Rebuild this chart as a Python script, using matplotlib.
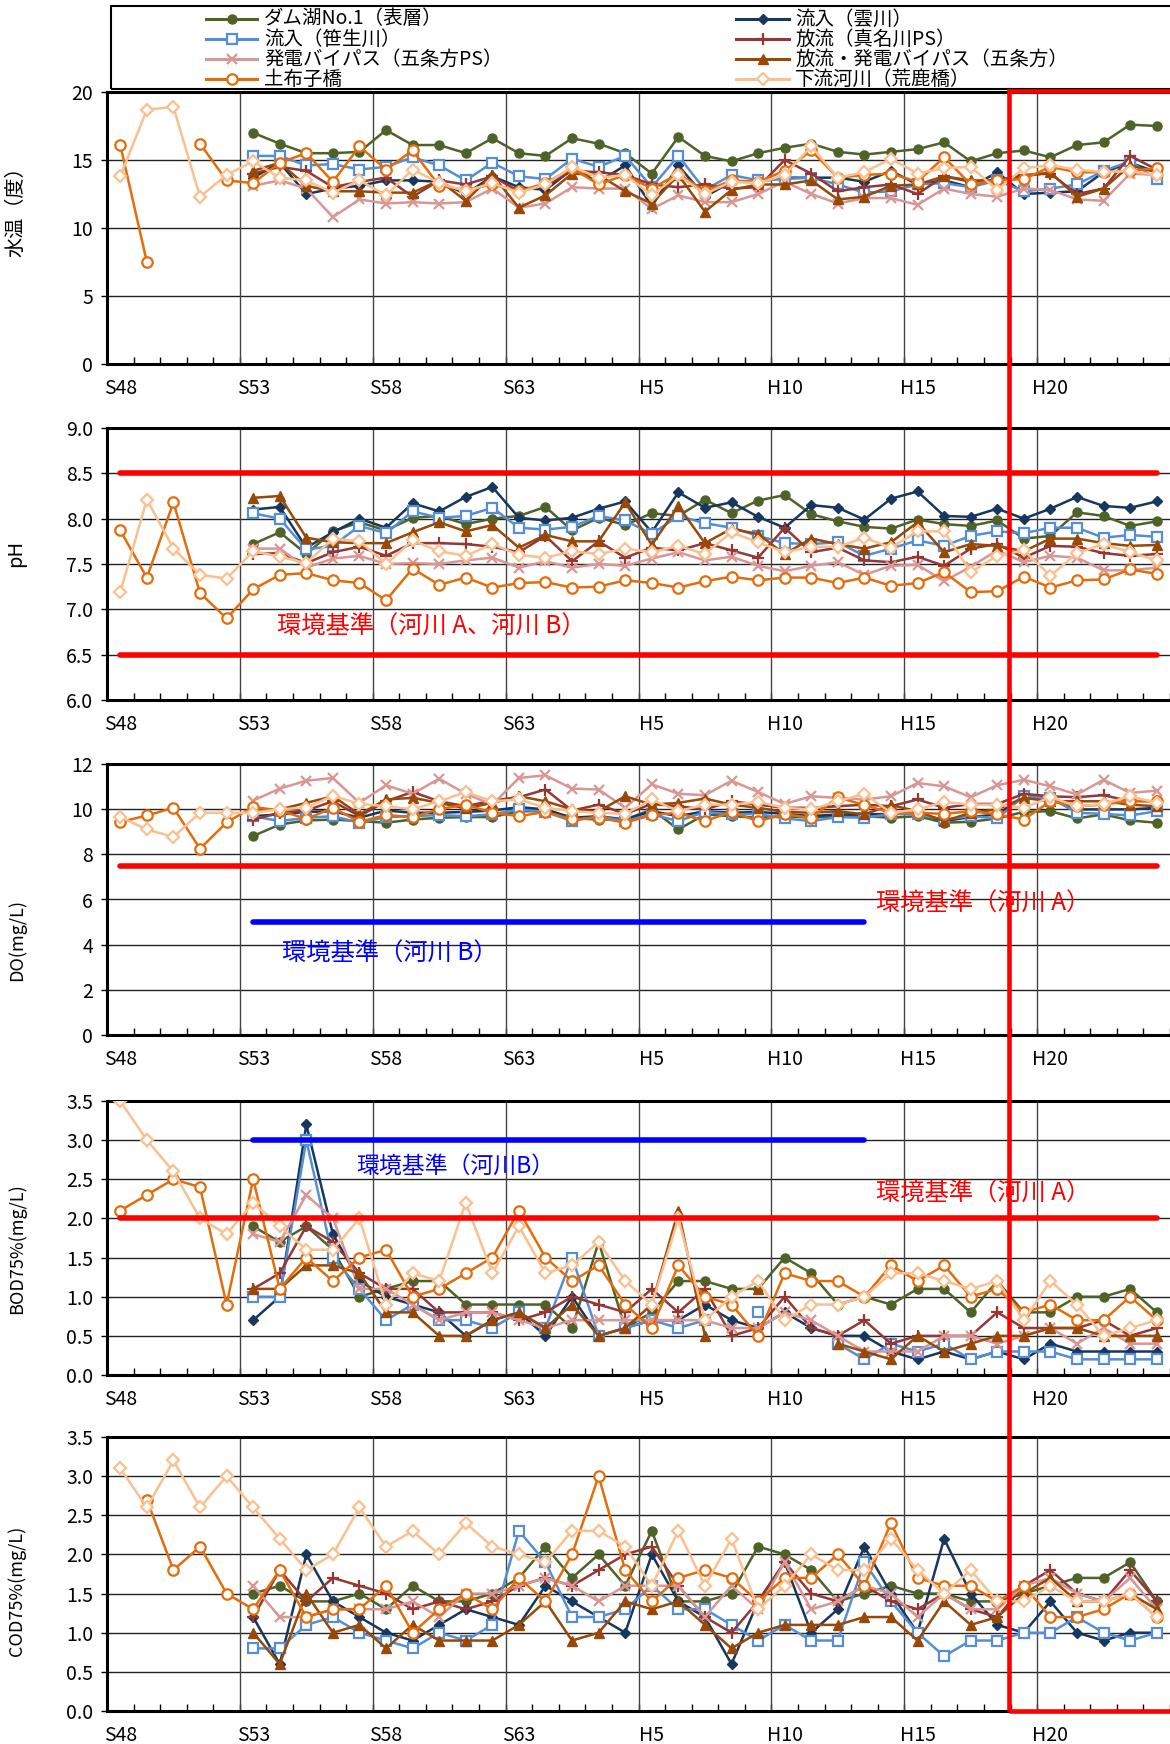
import numpy as np
import matplotlib.pyplot as plt
from matplotlib.lines import Line2D
from matplotlib.patches import Rectangle

plt.rcParams['font.family'] = ['Noto Sans CJK JP', 'DejaVu Sans']

nan = np.nan

# --------------------------
# categories (S48 .. S63, H1 .. H24)
# --------------------------
years = ['S%d' % y for y in range(48, 64)] + ['H%d' % y for y in range(1, 25)]

series_names = ['ダム湖No.1（表層）', '流入（雲川）', '流入（笹生川）', '放流（真名川PS）',
                '発電バイパス（五条方PS）', '放流・発電バイパス（五条方）', '土布子橋', '下流河川（荒鹿橋）']

# --------------------------
# 水温
# --------------------------
wt_dam = [nan]*5 + [17.0, 16.2, 15.5, 15.5, 15.6, 17.2, 16.1, 16.1, 15.5, 16.6, 15.5,
                    15.3, 16.6, 16.2, 15.5, 14.0, 16.7, 15.3, 14.9, 15.5, 15.9, 16.2, 15.6,
                    15.4, 15.6, 15.8, 16.3, 14.9, 15.5, 15.7, 15.2, 16.1, 16.3, 17.6, 17.5]
wt_kumo = [nan]*5 + [13.7, 14.8, 12.5, 12.9, 13.1, 13.5, 13.5, 13.4, 12.5, 13.8, 13.0,
                     12.8, 14.3, 13.4, 14.6, 11.6, 14.6, 12.3, 13.4, 13.4, 13.7, 13.7, 13.7,
                     13.4, 14.2, 13.2, 13.5, 13.0, 14.1, 12.5, 12.6, 12.7, 14.1, 14.8, 14.1]
wt_sasou = [nan]*5 + [15.3, 15.3, 14.6, 14.7, 14.3, 14.5, 15.2, 14.6, 13.5, 14.8, 13.8,
                      13.6, 15.1, 14.5, 15.3, 13.0, 15.3, 12.8, 13.9, 13.5, 13.6, 13.7, 13.2,
                      12.6, 12.7, 13.2, 13.3, 13.0, 13.5, 12.7, 12.9, 13.2, 14.2, 14.9, 13.6]
wt_hou = [nan]*5 + [14.0, 14.5, 14.2, 13.0, 13.4, 13.7, 12.3, 13.5, 13.2, 13.8, 12.7,
                    13.1, 14.2, 14.1, 13.9, 13.2, 13.0, 13.2, 12.9, 13.0, 15.0, 14.0, 12.7,
                    13.0, 13.2, 12.5, 13.8, 13.4, 13.5, 13.9, 14.0, 12.5, 12.9, 15.3, 14.3]
wt_bypass = [nan]*5 + [13.1, 13.5, 12.9, 10.8, 12.1, 11.8, 11.9, 11.8, 11.9, 12.9, 11.5,
                       11.8, 13.0, 12.9, 12.9, 11.4, 12.4, 11.9, 11.9, 12.5, 13.4, 12.5, 11.8,
                       12.2, 12.2, 11.7, 12.9, 12.5, 12.3, 12.9, 12.8, 12.1, 12.0, 14.0, 13.9]
wt_gojo = [nan]*5 + [14.2, 14.8, 13.1, 12.7, 12.7, 12.6, 12.6, 13.5, 12.0, 13.9, 11.5,
                     12.4, 14.0, 13.9, 12.7, 11.8, 13.9, 11.2, 12.8, 13.2, 13.2, 13.5, 12.1,
                     12.3, 13.1, 13.2, 13.8, 13.5, 13.5, 13.8, 14.1, 12.3, 12.9, 14.6, 14.1]
wt_dobu = [16.1, 7.5, nan, 16.2, 13.5,
           13.3, 14.8, 15.5, 13.4, 16.0, 14.3, 15.7, 13.1, 12.8, 13.2, 12.7,
           13.3, 14.4, 13.2, 13.9, 12.9, 14.0, 12.7, 13.5, 13.4, 14.2, 15.7, 13.7,
           13.9, 14.0, 13.4, 15.2, 13.2, 13.5, 13.6, 14.5, 14.1, 14.1, 14.2, 14.4]
wt_karashika = [13.8, 18.7, 18.9, 12.3, 13.9,
                14.9, 13.7, 13.5, 12.6, 13.5, 12.4, 14.3, 13.3, 12.7, 13.3, 12.6,
                13.2, 14.5, 13.7, 13.9, 12.4, 13.9, 12.5, 13.4, 13.3, 13.9, 16.0, 13.7,
                14.1, 15.1, 14.0, 14.4, 14.5, 12.8, 14.4, 14.6, 14.3, 14.1, 14.2, 13.9]

# --------------------------
# pH
# --------------------------
ph_dam = [nan]*5 + [7.72, 7.85, 7.61, 7.86, 7.96, 7.87, 8.01, 8.03, 7.94, 8.00, 8.03,
                    8.13, 7.87, 8.01, 7.93, 8.06, 8.03, 8.21, 8.06, 8.20, 8.26, 8.05, 7.97,
                    7.91, 7.89, 7.99, 7.94, 7.92, 7.98, 7.78, 7.81, 8.07, 8.03, 7.92, 7.97]
ph_kumo = [nan]*5 + [8.10, 8.13, 7.68, 7.85, 8.00, 7.90, 8.17, 8.08, 8.24, 8.35, 8.01,
                     7.98, 8.01, 8.11, 8.19, 7.85, 8.29, 8.12, 8.18, 8.02, 7.90, 8.15, 8.12,
                     7.99, 8.22, 8.30, 8.03, 8.02, 8.11, 8.00, 8.11, 8.24, 8.14, 8.12, 8.19]
ph_sasou = [nan]*5 + [8.06, 8.00, 7.66, 7.70, 7.92, 7.84, 8.08, 8.01, 8.03, 8.12, 7.90,
                      7.88, 7.91, 8.03, 7.98, 7.83, 8.03, 7.95, 7.90, 7.81, 7.73, 7.72, 7.74,
                      7.59, 7.67, 7.76, 7.70, 7.81, 7.86, 7.84, 7.90, 7.90, 7.79, 7.82, 7.80]
ph_hou = [nan]*5 + [7.61, 7.62, 7.51, 7.63, 7.69, 7.59, 7.73, 7.73, 7.72, 7.69, 7.63,
                    7.81, 7.53, 7.75, 7.57, 7.68, 7.65, 7.73, 7.65, 7.57, 7.90, 7.63, 7.68,
                    7.54, 7.52, 7.58, 7.48, 7.67, 7.72, 7.57, 7.70, 7.69, 7.62, 7.59, 7.61]
ph_bypass = [nan]*5 + [7.67, 7.67, 7.46, 7.56, 7.59, 7.50, 7.51, 7.50, 7.54, 7.57, 7.46,
                       7.53, 7.46, 7.50, 7.48, 7.56, 7.63, 7.54, 7.58, 7.48, 7.42, 7.48, 7.52,
                       7.38, 7.48, 7.49, 7.31, 7.47, 7.65, 7.52, 7.59, 7.57, 7.43, 7.43, 7.46]
ph_gojo = [nan]*5 + [8.23, 8.25, 7.79, 7.74, 7.73, 7.73, 7.85, 7.96, 7.86, 7.93, 7.68,
                     7.82, 7.75, 7.75, 8.18, 7.71, 8.14, 7.73, 7.89, 7.83, 7.61, 7.78, 7.72,
                     7.67, 7.74, 7.96, 7.63, 7.72, 7.70, 7.64, 7.78, 7.78, 7.73, 7.70, 7.71]
ph_dobu = [7.87, 7.35, 8.18, 7.18, 6.90,
           7.22, 7.38, 7.40, 7.32, 7.29, 7.10, 7.45, 7.27, 7.35, 7.24, 7.29,
           7.30, 7.24, 7.25, 7.32, 7.29, 7.24, 7.31, 7.36, 7.32, 7.35, 7.35, 7.29,
           7.35, 7.26, 7.29, 7.41, 7.19, 7.20, 7.36, 7.24, 7.32, 7.33, 7.44, 7.39]
ph_karashika = [7.19, 8.21, 7.67, 7.38, 7.34,
                7.64, 7.58, 7.51, 7.78, 7.75, 7.50, 7.76, 7.64, 7.59, 7.72, 7.60,
                7.57, 7.64, 7.61, 7.67, 7.63, 7.70, 7.61, 7.85, 7.74, 7.63, 7.69, 7.69,
                7.79, 7.68, 7.86, 7.86, 7.41, 7.59, 7.65, 7.37, 7.62, 7.72, 7.63, 7.54]

# --------------------------
# DO
# --------------------------
do_dam = [nan]*5 + [8.81, 9.32, 9.50, 9.54, 9.47, 9.40, 9.54, 9.62, 9.65, 9.65, 9.91,
                    9.91, 9.60, 9.54, 9.54, 9.99, 9.10, 9.77, 9.69, 9.62, 9.69, 9.62, 9.69,
                    9.69, 9.62, 9.69, 9.40, 9.44, 9.59, 9.88, 9.91, 9.59, 9.77, 9.50, 9.40]
do_kumo = [nan]*5 + [9.69, 9.77, 9.88, 9.91, 9.62, 9.94, 9.84, 9.84, 9.88, 9.94, 10.09,
                     9.99, 9.62, 9.69, 9.54, 9.91, 9.69, 9.91, 9.84, 9.88, 9.79, 9.69, 9.77,
                     9.77, 9.79, 9.84, 9.47, 9.65, 9.77, 10.57, 10.50, 9.99, 9.99, 9.99, 10.06]
do_sasou = [nan]*5 + [9.69, 9.47, 9.62, 9.69, 9.40, 9.65, 9.69, 9.74, 9.69, 9.77, 9.99,
                      9.88, 9.47, 9.69, 9.47, 9.77, 9.47, 9.88, 9.77, 9.79, 9.59, 9.47, 9.65,
                      9.62, 9.79, 9.77, 9.54, 9.69, 9.59, 10.57, 10.50, 9.84, 9.79, 9.72, 9.91]
do_hou = [nan]*5 + [9.54, 9.84, 9.94, 10.35, 9.69, 10.35, 10.76, 10.35, 10.13, 10.38, 10.53,
                    10.87, 9.94, 10.20, 9.79, 10.23, 10.13, 9.99, 10.35, 10.20, 10.06, 10.06, 10.13,
                    10.20, 10.13, 10.43, 10.06, 10.23, 10.23, 10.68, 10.57, 10.53, 10.62, 10.35, 10.35]
do_bypass = [nan]*5 + [10.38, 10.91, 11.26, 11.38, 10.28, 11.06, 10.68, 11.35, 10.68, 10.20, 11.38,
                       11.50, 10.91, 10.87, 10.06, 11.10, 10.68, 10.62, 11.26, 10.76, 10.23, 10.57, 10.50,
                       10.43, 10.57, 11.16, 11.01, 10.53, 11.06, 11.30, 11.01, 10.65, 11.30, 10.72, 10.82]
do_gojo = [nan]*5 + [9.99, 9.99, 10.28, 10.57, 9.77, 10.43, 10.50, 10.28, 10.03, 10.28, 10.57,
                     10.35, 9.99, 9.91, 10.57, 10.20, 10.28, 10.47, 10.20, 10.06, 9.88, 9.84, 9.91,
                     9.77, 10.18, 9.91, 9.47, 9.84, 9.99, 10.50, 10.35, 10.35, 10.35, 10.20, 10.13]
do_dobu = [9.43, 9.72, 10.06, 8.25, 9.41,
           10.10, 9.94, 9.57, 10.06, 9.44, 9.74, 9.65, 10.00, 10.20, 9.84, 9.69,
           9.88, 9.55, 9.62, 9.40, 9.74, 9.84, 9.47, 9.88, 9.47, 9.77, 9.62, 10.53,
           10.18, 9.84, 9.84, 9.79, 9.91, 9.77, 9.54, 10.35, 10.13, 10.20, 10.38, 10.35]
do_karashika = [9.65, 9.10, 8.77, 9.84, 9.84,
                9.84, 10.00, 10.06, 10.60, 10.23, 10.13, 9.99, 10.35, 10.76, 10.35, 10.43,
                10.06, 9.91, 9.84, 9.79, 10.43, 9.91, 10.20, 10.20, 10.32, 10.06, 9.99, 10.35,
                10.68, 9.84, 9.99, 10.32, 10.20, 10.20, 10.06, 10.53, 10.13, 10.23, 10.57, 10.28]

# --------------------------
# BOD75%
# --------------------------
bod_dam = [nan]*5 + [1.9, 1.7, 1.9, 1.6, 1.0, 1.1, 1.2, 1.2, 0.9, 0.9, 0.9,
                     0.9, 0.6, 1.7, 0.6, 0.8, 1.2, 1.2, 1.1, 1.1, 1.5, 1.3, 0.9,
                     1.0, 0.9, 1.1, 1.1, 0.8, 1.2, 0.8, 0.8, 1.0, 1.0, 1.1, 0.8]
bod_kumo = [nan]*5 + [0.7, 1.0, 3.2, 1.8, 1.2, 1.0, 0.9, 0.8, 0.5, 0.7, 0.8,
                      0.5, 1.0, 0.5, 0.6, 0.7, 0.7, 0.9, 0.7, 0.6, 0.8, 0.6, 0.5,
                      0.5, 0.3, 0.2, 0.3, 0.2, 0.3, 0.2, 0.4, 0.3, 0.3, 0.3, 0.3]
bod_sasou = [nan]*5 + [1.0, 1.0, 3.0, 1.5, 1.1, 0.7, 0.9, 0.7, 0.7, 0.6, 0.8,
                       0.6, 1.5, 0.5, 0.6, 0.7, 0.6, 0.7, nan, 0.8, nan, nan, 0.4,
                       0.2, 0.4, 0.3, 0.4, 0.2, 0.3, 0.3, 0.3, 0.2, 0.2, 0.2, 0.2]
bod_hou = [nan]*5 + [1.1, 1.3, 1.9, 1.7, 1.3, 1.1, 1.1, 0.8, 0.8, 0.8, 0.7,
                     0.8, 1.0, 0.9, 0.8, 1.1, 0.8, 1.1, 0.5, 0.6, 1.0, 0.6, 0.5,
                     0.7, 0.4, 0.5, 0.5, 0.5, 0.8, 0.6, 0.6, 0.6, 0.7, 0.5, 0.6]
bod_bypass = [nan]*5 + [1.8, 1.7, 2.3, 2.0, 1.1, 1.1, 0.9, 0.7, 0.8, 0.8, 0.7,
                        0.6, 0.7, 0.7, 0.7, 0.7, 0.7, 0.7, 0.6, 0.6, 0.8, 0.7, 0.5,
                        0.3, 0.3, 0.3, 0.5, 0.5, 0.4, 0.5, 0.6, 0.4, 0.6, 0.4, 0.4]
bod_gojo = [nan]*5 + [1.1, 1.1, 1.4, 1.4, 1.3, 0.8, 0.8, 0.5, 0.5, 0.7, 0.8,
                      0.6, 0.9, 0.5, 0.6, 0.9, 2.1, 0.5, nan, 1.1, nan, nan, 0.4,
                      0.3, 0.2, 0.5, 0.3, 0.4, 0.5, 0.5, 0.6, 0.6, 0.5, 0.5, 0.5]
bod_dobu = [2.1, 2.3, 2.5, 2.4, 0.9,
            2.5, 1.1, 1.5, 1.2, 1.5, 1.6, 1.0, 1.1, 1.3, 1.5, 2.1,
            1.5, 1.2, 1.4, 0.9, 0.6, 1.4, 1.0, 0.9, 0.5, 1.3, 1.2, 1.2,
            1.0, 1.4, 1.2, 1.4, 1.0, 1.1, 0.8, 0.9, 0.7, 0.7, 1.0, 0.7]
bod_karashika = [3.5, 3.0, 2.6, 2.0, 1.8,
                 2.2, 1.9, 1.6, 1.6, 2.0, 0.9, 1.3, 1.2, 2.2, 1.3, 1.9,
                 1.3, 1.4, 1.7, 1.2, 0.9, 2.0, 0.7, 1.0, 1.2, 0.7, 0.9, 0.9,
                 1.0, 1.3, 1.3, 1.2, 1.1, 1.2, 0.7, 1.2, 0.9, 0.5, 0.6, 0.7]

# --------------------------
# COD75%
# --------------------------
cod_dam = [nan]*5 + [1.5, 1.6, 1.4, 1.4, 1.5, 1.3, 1.6, 1.4, 1.4, 1.5, 1.7,
                     2.1, 1.7, 2.0, 1.6, 2.3, 1.4, 1.4, 1.5, 2.1, 2.0, 1.8, 1.4,
                     1.5, 1.6, 1.5, 1.5, 1.4, 1.4, 1.5, 1.6, 1.7, 1.7, 1.9, 1.4]
cod_kumo = [nan]*5 + [1.2, 0.6, 2.0, 1.4, 1.2, 1.0, 0.9, 1.1, 1.3, 1.2, 1.1,
                      1.6, 1.4, 1.2, 1.0, 2.0, 1.4, 1.2, 0.6, 1.4, 1.9, 1.0, 1.3,
                      2.1, 1.5, 1.0, 2.2, 1.5, 1.1, 1.0, 1.4, 1.0, 0.9, 1.0, 1.0]
cod_sasou = [nan]*5 + [0.8, 0.8, 1.1, 1.2, 1.0, 0.9, 0.8, 1.0, 0.9, 1.1, 2.3,
                       1.9, 1.2, 1.2, 1.3, 1.6, 1.3, 1.3, 1.1, 0.9, 1.1, 0.9, 0.9,
                       1.9, 1.4, 1.0, 0.7, 0.9, 0.9, 1.0, 1.0, 1.2, 1.0, 0.9, 1.0]
cod_hou = [nan]*5 + [1.2, 1.8, 1.4, 1.7, 1.6, 1.5, 1.3, 1.4, 1.3, 1.4, 1.6,
                     1.7, 1.6, 1.8, 2.0, 2.1, 1.6, 1.2, 1.0, 1.4, 1.9, 1.5, 1.4,
                     1.6, 1.4, 1.3, 1.5, 1.3, 1.2, 1.6, 1.8, 1.5, 1.4, 1.8, 1.4]
cod_bypass = [nan]*5 + [1.6, 1.2, 1.2, 1.3, 1.3, 1.3, 1.4, 1.2, 1.5, 1.5, 1.6,
                        1.7, 1.6, 1.4, 1.6, 1.6, 1.6, 1.2, 1.6, 1.3, 1.9, 1.3, 1.4,
                        1.6, 1.5, 1.2, 1.5, 1.3, 1.3, 1.6, 1.7, 1.5, 1.4, 1.7, 1.3]
cod_gojo = [nan]*5 + [1.0, 0.6, 1.5, 1.0, 1.1, 0.8, 1.1, 0.9, 0.9, 0.9, 1.1,
                      1.4, 0.9, 1.0, 1.4, 1.3, 1.4, 1.1, 0.8, 1.0, 1.1, 1.1, 1.1,
                      1.2, 1.2, 0.9, 1.4, 1.1, 1.2, 1.5, 1.7, 1.4, 1.4, 1.5, 1.3]
cod_dobu = [nan, 2.7, 1.8, 2.1, 1.5,
            1.3, 1.8, 1.2, 1.3, 1.3, 1.6, 1.0, 1.3, 1.5, 1.3, 1.7,
            1.4, 2.0, 3.0, 1.8, 1.4, 1.7, 1.8, 1.7, 1.4, 1.7, 1.7, 2.0,
            1.6, 2.4, 1.7, 1.6, 1.6, 1.4, 1.6, 1.2, 1.2, 1.3, 1.5, 1.2]
cod_karashika = [3.1, 2.6, 3.2, 2.6, 3.0,
                 2.6, 2.2, 1.8, 2.0, 2.6, 2.1, 2.3, 2.0, 2.4, 2.1, 2.0,
                 1.9, 2.3, 2.3, 2.1, 1.6, 2.3, 1.6, 2.2, 1.3, 1.6, 2.0, 1.8,
                 1.8, 2.2, 1.8, 1.5, 1.8, 1.4, 1.4, 1.6, 1.4, 1.4, 1.5, 1.2]

# environmental standards
ph_std = [6.5, 8.5]
do_std_a = 7.5
do_std_b = 5.0
bod_std_a = 2.0
bod_std_b = 3.0

# --------------------------
# styles
# --------------------------
styles = [
    dict(color='#4F6228', marker='o', ms=6.5, mfc='#4F6228', mec='#4F6228', mew=1),
    dict(color='#17375E', marker='D', ms=5.5, mfc='#17375E', mec='#17375E', mew=1),
    dict(color='#558ED5', marker='s', ms=7, mfc='white', mec='#558ED5', mew=1.6),
    dict(color='#953735', marker='+', ms=9, mfc='#953735', mec='#953735', mew=1.6),
    dict(color='#D99694', marker='x', ms=6.5, mfc='#D99694', mec='#D99694', mew=1.6),
    dict(color='#984807', marker='^', ms=7.5, mfc='#984807', mec='#984807', mew=1),
    dict(color='#E46C0A', marker='o', ms=7.5, mfc='white', mec='#E46C0A', mew=1.6),
    dict(color='#FAC090', marker='D', ms=6, mfc='white', mec='#FAC090', mew=1.6),
]

panels = [
    dict(data=[wt_dam, wt_kumo, wt_sasou, wt_hou, wt_bypass, wt_gojo, wt_dobu, wt_karashika],
         ylim=(0, 20), yticks=np.arange(0, 21, 5), fmt='{:.0f}', ylabel='水温（度）', ylsize=14.5, ly=0.58),
    dict(data=[ph_dam, ph_kumo, ph_sasou, ph_hou, ph_bypass, ph_gojo, ph_dobu, ph_karashika],
         ylim=(6, 9), yticks=np.arange(6, 9.01, 0.5), fmt='{:.1f}', ylabel='pH', ylsize=14.5, ly=0.54),
    dict(data=[do_dam, do_kumo, do_sasou, do_hou, do_bypass, do_gojo, do_dobu, do_karashika],
         ylim=(0, 12), yticks=np.arange(0, 13, 2), fmt='{:.0f}', ylabel='DO(mg/L)', ylsize=13, ly=0.35),
    dict(data=[bod_dam, bod_kumo, bod_sasou, bod_hou, bod_bypass, bod_gojo, bod_dobu, bod_karashika],
         ylim=(0, 3.5), yticks=np.arange(0, 3.51, 0.5), fmt='{:.1f}', ylabel='BOD75%(mg/L)', ylsize=13, ly=0.46),
    dict(data=[cod_dam, cod_kumo, cod_sasou, cod_hou, cod_bypass, cod_gojo, cod_dobu, cod_karashika],
         ylim=(0, 3.5), yticks=np.arange(0, 3.51, 0.5), fmt='{:.1f}', ylabel='COD75%(mg/L)', ylsize=13, ly=0.44),
]

# --------------------------
# layout (pixels)
# --------------------------
W, H = 1170, 1744
left_px = 107
panel_px = [(92, 364), (428, 700), (764, 1035), (1101, 1375), (1437, 1711)]

fig = plt.figure(figsize=(W / 100, H / 100), dpi=100)

x = np.arange(len(years))
i_first = years.index('S48')
i_last = years.index('H24')
i_b0 = years.index('S53')
i_b1 = years.index('H13')

axes = []
for p, (top, bot) in zip(panels, panel_px):
    ax = fig.add_axes([left_px / W, 1 - bot / H, (W - left_px) / W, (bot - top) / H])
    axes.append(ax)

    for vals, st in zip(p['data'], styles):
        ax.plot(x, vals, lw=1.8, zorder=3, **st)

    ax.set_xlim(-0.5, 39.3)
    ax.set_ylim(*p['ylim'])
    ax.set_yticks(p['yticks'])
    ax.set_yticklabels([p['fmt'].format(t) for t in p['yticks']])
    ax.set_xticks(x[::5])
    ax.set_xticklabels(years[::5])
    ax.set_xticks(np.arange(-0.5, 40, 1), minor=True)

    ax.tick_params(axis='y', direction='out', length=4, width=1, labelsize=14, pad=6)
    ax.tick_params(axis='x', which='major', length=0, labelsize=14, pad=10)
    ax.tick_params(axis='x', which='minor', direction='in', length=5, width=1)

    ax.yaxis.grid(True, color='#222222', lw=1)
    ax.set_axisbelow(True)
    for b in np.arange(4.5, 39.5, 5):
        ax.axvline(b, color='#444444', lw=1, zorder=1)

    for s in ['left', 'top', 'bottom']:
        ax.spines[s].set_linewidth(2.2)
    ax.spines['right'].set_visible(False)

    ax.set_ylabel(p['ylabel'], fontsize=p['ylsize'])
    ax.yaxis.set_label_coords(-0.076, p['ly'])

# environmental standard lines + labels
ax_ph, ax_do, ax_bod = axes[1], axes[2], axes[3]
for v in ph_std:
    ax_ph.plot([i_first, i_last], [v, v], color='red', lw=4, solid_capstyle='round', zorder=4)
ax_ph.text(11.7, 6.81, '環境基準（河川 A、河川 B）', color='red', fontsize=17.5, ha='center', va='center')

ax_do.plot([i_first, i_last], [do_std_a, do_std_a], color='red', lw=4, solid_capstyle='round', zorder=4)
ax_do.plot([i_b0, i_b1], [do_std_b, do_std_b], color='blue', lw=4, solid_capstyle='round', zorder=4)
ax_do.text(32.45, 5.8, '環境基準（河川 A）', color='red', fontsize=17.5, ha='center', va='center')
ax_do.text(10.15, 3.59, '環境基準（河川 B）', color='blue', fontsize=17.5, ha='center', va='center')

ax_bod.plot([i_first, i_last], [bod_std_a, bod_std_a], color='red', lw=4, solid_capstyle='round', zorder=4)
ax_bod.plot([i_b0, i_b1], [bod_std_b, bod_std_b], color='blue', lw=4, solid_capstyle='round', zorder=4)
ax_bod.text(12.6, 2.67, '環境基準（河川B）', color='blue', fontsize=16.5, ha='center', va='center')
ax_bod.text(32.45, 2.32, '環境基準（河川 A）', color='red', fontsize=17.5, ha='center', va='center')

# --------------------------
# legend (drawn by hand, 2 columns x 4 rows)
# --------------------------
fig.add_artist(Rectangle((111 / W, 1 - 89 / H), (W + 20 - 111) / W, 83 / H,
                         transform=fig.transFigure, fill=False, ec='black', lw=1.5, clip_on=False))
col_px = [(206, 257, 264), (736, 789, 795)]
row_px = [19, 39, 59, 79]
for k, (name, st) in enumerate(zip(series_names, styles)):
    c0, c1, tx = col_px[k % 2]
    yy = 1 - row_px[k // 2] / H
    fig.add_artist(Line2D([c0 / W, c1 / W], [yy, yy], transform=fig.transFigure,
                          color=st['color'], lw=2.2))
    fig.add_artist(Line2D([(c0 + c1) / 2 / W], [yy], transform=fig.transFigure, ls='none',
                          marker=st['marker'], ms=st['ms'], mfc=st['mfc'], mec=st['mec'], mew=st['mew']))
    fig.text(tx / W, yy, name, fontsize=14, ha='left', va='center')

# red frame around recent years
fig.add_artist(Rectangle((1009 / W, 1 - 1711 / H), (W + 30 - 1009) / W, (1711 - 91) / H,
                         transform=fig.transFigure, fill=False, ec='red', lw=3.3,
                         clip_on=False, zorder=20))

fig.savefig('out.png', dpi=100)
